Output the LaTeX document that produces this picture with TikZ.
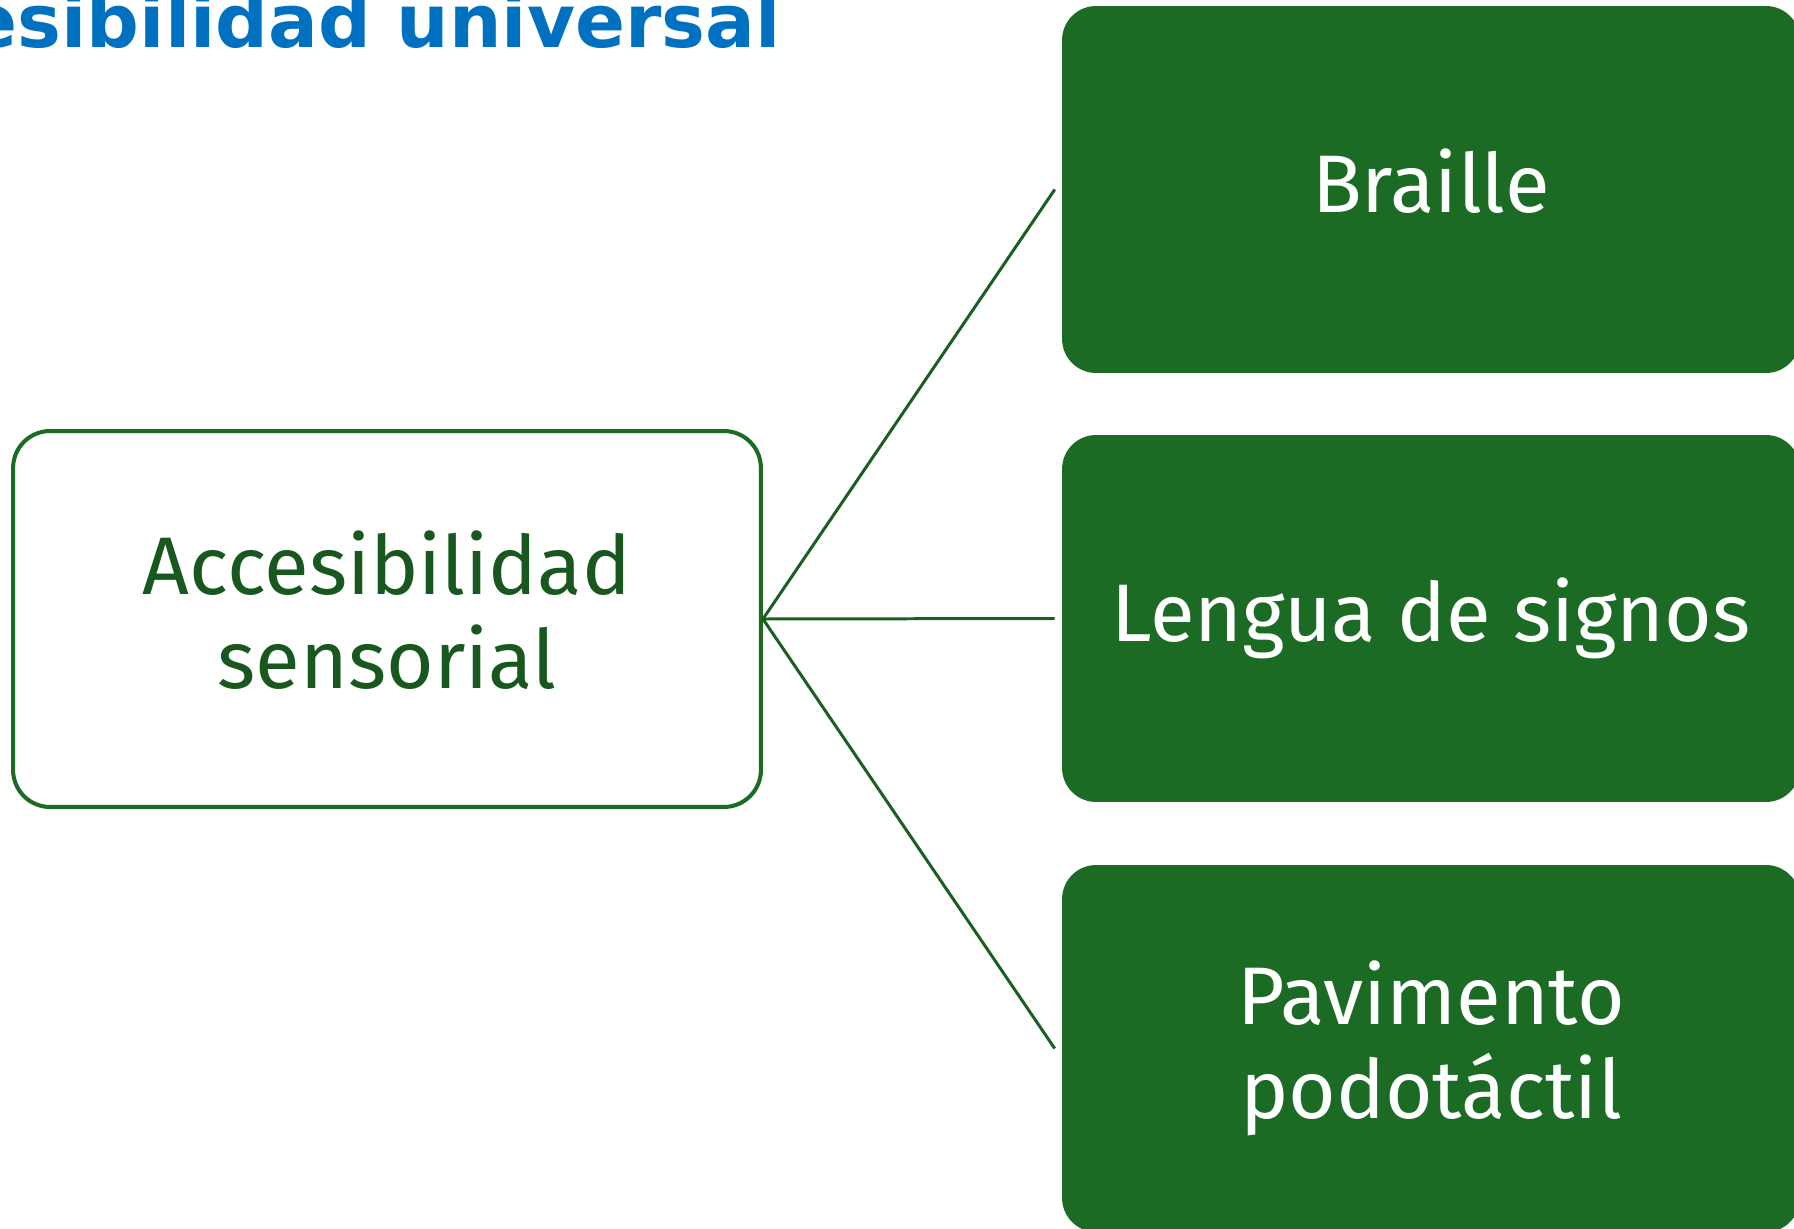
\documentclass[tikz,border=0pt]{standalone}
\usepackage{fontspec}
\setmainfont{Fira Sans}
\newfontfamily\titlefont{DejaVu Sans}
\usetikzlibrary{math}
\definecolor{boxgreen}{RGB}{27,107,37}
\definecolor{linegreen}{RGB}{26,94,32}
\definecolor{textgreen}{RGB}{24,88,30}
\definecolor{titleblue}{RGB}{0,112,192}

\tikzset{
  rootbox/.style={draw=boxgreen, fill=white, line width=2.3pt, rounded corners=0.74cm,
    minimum width=14.96cm, minimum height=7.52cm, inner sep=0pt, align=center,
    text depth=10.5pt, text=textgreen, font=\fontsize{46.5}{53.5}\selectfont},
  leafbox/.style={fill=boxgreen, rounded corners=0.68cm,
    minimum width=14.76cm, minimum height=7.34cm, inner sep=0pt, align=center,
    text depth=10.5pt, text=white, font=\fontsize{46.5}{53.5}\selectfont},
  branch/.style={draw=linegreen, line width=1.7pt}
}

\begin{document}
\begin{tikzpicture}[x=0.02cm, y=-0.02cm]
\tikzmath{
\gap=7;
}
\useasboundingbox (0,0) rectangle (1794,1229);
\clip (0,0) rectangle (1794,1229);

\node[anchor=base east, inner sep=0pt, text=titleblue,
  font=\titlefont\bfseries\fontsize{42}{46}\selectfont] (title) at (781,48) {esibilidad universal};

\node[rootbox] (root) at (387,619) {Accesibilidad\\sensorial};

\node[leafbox] (braille) at (1431,189.5) {Braille};
\node[leafbox] (lengua) at (1431,618.5) {Lengua de signos};
\node[leafbox] (pavimento) at (1431,1048.5) {Pavimento\\podotáctil};

\coordinate (b1) at ([xshift=-\gap*0.02cm]braille.west);
\coordinate (b2) at ([xshift=-\gap*0.02cm]lengua.west);
\coordinate (b3) at ([xshift=-\gap*0.02cm]pavimento.west);

\draw[branch] (root.east) -- (b1);
\draw[branch] (root.east) -- (b2);
\draw[branch] (root.east) -- (b3);

\end{tikzpicture}
\end{document}
